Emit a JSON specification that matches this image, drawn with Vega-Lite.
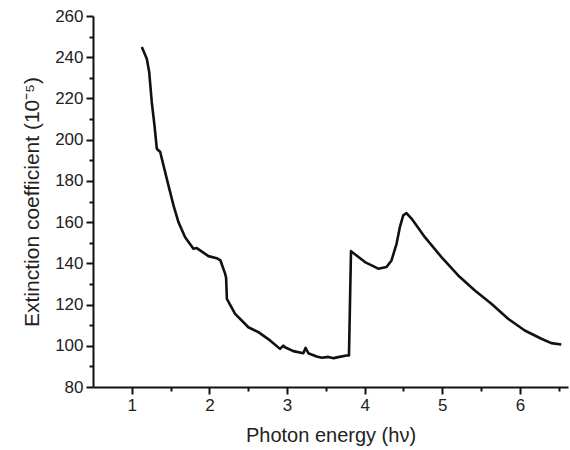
{
  "$schema": "https://vega.github.io/schema/vega-lite/v6.json",
  "width": 475,
  "height": 371,
  "autosize": {"type": "none"},
  "padding": {"left": 93, "top": 16, "right": 2, "bottom": 63},
  "background": "white",
  "config": {
    "view": {"stroke": null},
    "font": "Liberation Sans",
    "axis": {"grid": false, "domainColor": "#111", "tickColor": "#111", "labelColor": "#222", "titleColor": "#222", "labelFont": "Liberation Sans", "titleFont": "Liberation Sans", "titleFontWeight": "normal", "domainWidth": 2, "tickWidth": 2}
  },
  "data": {"values": [
    {"x": 1.129, "y": 245.0},
    {"x": 1.193, "y": 239.3},
    {"x": 1.224, "y": 232.8},
    {"x": 1.257, "y": 218.3},
    {"x": 1.292, "y": 206.9},
    {"x": 1.322, "y": 195.6},
    {"x": 1.366, "y": 194.0},
    {"x": 1.408, "y": 187.5},
    {"x": 1.472, "y": 177.8},
    {"x": 1.537, "y": 168.1},
    {"x": 1.601, "y": 160.0},
    {"x": 1.687, "y": 152.7},
    {"x": 1.794, "y": 147.1},
    {"x": 1.837, "y": 147.4},
    {"x": 1.987, "y": 143.5},
    {"x": 2.094, "y": 142.5},
    {"x": 2.142, "y": 141.4},
    {"x": 2.202, "y": 135.0},
    {"x": 2.215, "y": 133.0},
    {"x": 2.225, "y": 122.8},
    {"x": 2.331, "y": 115.5},
    {"x": 2.502, "y": 109.0},
    {"x": 2.631, "y": 106.6},
    {"x": 2.781, "y": 102.6},
    {"x": 2.910, "y": 98.5},
    {"x": 2.952, "y": 100.1},
    {"x": 2.974, "y": 99.3},
    {"x": 3.081, "y": 97.4},
    {"x": 3.210, "y": 96.4},
    {"x": 3.239, "y": 99.0},
    {"x": 3.274, "y": 96.4},
    {"x": 3.381, "y": 94.8},
    {"x": 3.45, "y": 94.2},
    {"x": 3.532, "y": 94.6},
    {"x": 3.6, "y": 94.0},
    {"x": 3.660, "y": 94.5},
    {"x": 3.767, "y": 95.3},
    {"x": 3.798, "y": 95.3},
    {"x": 3.824, "y": 145.9},
    {"x": 4.004, "y": 140.6},
    {"x": 4.175, "y": 137.4},
    {"x": 4.282, "y": 138.2},
    {"x": 4.346, "y": 141.4},
    {"x": 4.411, "y": 149.5},
    {"x": 4.454, "y": 157.6},
    {"x": 4.497, "y": 163.3},
    {"x": 4.539, "y": 164.4},
    {"x": 4.604, "y": 161.7},
    {"x": 4.776, "y": 152.7},
    {"x": 4.990, "y": 143.0},
    {"x": 5.205, "y": 134.1},
    {"x": 5.420, "y": 126.8},
    {"x": 5.633, "y": 120.4},
    {"x": 5.848, "y": 113.1},
    {"x": 6.063, "y": 107.4},
    {"x": 6.277, "y": 103.4},
    {"x": 6.405, "y": 101.3},
    {"x": 6.534, "y": 100.6}
  ]},
  "layer": [
    {
      "mark": {"type": "line", "color": "#111", "strokeWidth": 2.6, "strokeJoin": "round", "clip": true},
      "encoding": {
        "x": {"field": "x", "type": "quantitative", "scale": {"domain": [0.5, 6.62], "nice": false, "zero": false},
          "axis": {"orient": "bottom", "values": [1, 2, 3, 4, 5, 6], "tickSize": 7, "labelFontSize": 17, "labelPadding": 3, "title": "Photon energy (hν)", "titleFontSize": 20, "titlePadding": 12}},
        "y": {"field": "y", "type": "quantitative", "scale": {"domain": [80, 260], "nice": false, "zero": false},
          "axis": {"orient": "left", "values": [80, 100, 120, 140, 160, 180, 200, 220, 240, 260], "tickSize": 7, "labelFontSize": 17, "labelPadding": 3, "title": "Extinction coefficient (10⁻⁵)", "titleFontSize": 21, "titlePadding": 12}}
      }
    },
    {
      "mark": {"type": "line", "strokeOpacity": 0},
      "encoding": {
        "x": {"field": "x", "type": "quantitative",
          "axis": {"orient": "bottom", "values": [1.5, 2.5, 3.5, 4.5, 5.5, 6.5], "tickSize": 4, "labels": false, "domain": false, "title": null}},
        "y": {"field": "y", "type": "quantitative",
          "axis": {"orient": "left", "values": [90, 110, 130, 150, 170, 190, 210, 230, 250], "tickSize": 4, "labels": false, "domain": false, "title": null}}
      }
    }
  ],
  "resolve": {"axis": {"x": "independent", "y": "independent"}}
}
